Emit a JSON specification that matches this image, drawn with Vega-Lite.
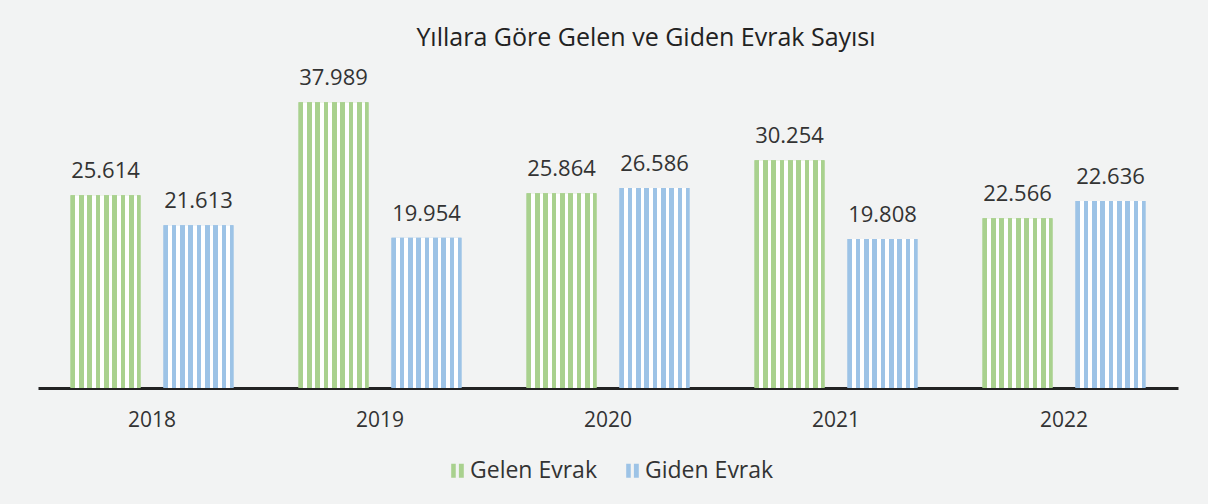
{
  "$schema": "https://vega.github.io/schema/vega-lite/v6.json",
  "width": 1140,
  "height": 301,
  "autosize": {"type": "none"},
  "padding": {"left": 38, "top": 87, "right": 30, "bottom": 116},
  "background": "#f2f3f3",
  "config": {
    "view": {"stroke": null},
    "font": "Open Sans",
    "locale": {"number": {"decimal": ",", "thousands": ".", "grouping": [3], "currency": ["", "₺"]}}
  },
  "title": {"text": "Yıllara Göre Gelen ve Giden Evrak Sayısı", "fontSize": 25, "fontWeight": "normal", "color": "#222222", "font": "Open Sans", "offset": 16, "dx": 38, "anchor": "middle"},
  "data": {"values": [
    {"year": "2018", "type": "Gelen Evrak", "value": 25614, "bar": 25614},
    {"year": "2018", "type": "Giden Evrak", "value": 21613, "bar": 21613},
    {"year": "2019", "type": "Gelen Evrak", "value": 37989, "bar": 37989},
    {"year": "2019", "type": "Giden Evrak", "value": 19954, "bar": 19954},
    {"year": "2020", "type": "Gelen Evrak", "value": 25864, "bar": 25864},
    {"year": "2020", "type": "Giden Evrak", "value": 26586, "bar": 26586},
    {"year": "2021", "type": "Gelen Evrak", "value": 30254, "bar": 30254},
    {"year": "2021", "type": "Giden Evrak", "value": 19808, "bar": 19808},
    {"year": "2022", "type": "Gelen Evrak", "value": 22566, "bar": 22566},
    {"year": "2022", "type": "Giden Evrak", "value": 22636, "bar": 24840}
  ]},
  "encoding": {
    "x": {"field": "year", "type": "nominal", "scale": {"paddingInner": 0, "paddingOuter": 0},
      "axis": {"title": null, "labelAngle": 0, "domainColor": "#222222", "domainWidth": 3, "ticks": false, "labelFontSize": 21, "labelColor": "#333333", "labelPadding": 21}},
    "xOffset": {"field": "type", "type": "nominal", "sort": ["Gelen Evrak", "Giden Evrak"], "scale": {"paddingInner": 0.247, "paddingOuter": 0.35}},
    "y": {"field": "bar", "type": "quantitative", "scale": {"domain": [0, 40000]}, "axis": null}
  },
  "layer": [
    {
      "mark": {"type": "bar"},
      "encoding": {
        "color": {"field": "type", "type": "nominal", "sort": ["Gelen Evrak", "Giden Evrak"],
          "scale": {"domain": ["Gelen Evrak", "Giden Evrak"], "range": ["#a9d18e", "#9dc3e6"]},
          "legend": {"orient": "none", "legendX": 408, "legendY": 372, "title": null, "direction": "horizontal",
            "symbolType": "M-0.9,-1H-0.25V1H-0.9Z M0.2,-1H0.9V1H0.2Z", "symbolSize": 196, "symbolStrokeWidth": 0,
            "labelFontSize": 23, "labelOffset": 1, "labelColor": "#333333", "columnPadding": 24}}
      }
    },
    {
      "mark": {"type": "bar"},
      "encoding": {
        "fill": {
          "condition": {"test": "datum.type === 'Gelen Evrak'", "value": {"gradient": "linear", "x1": 0, "y1": 0, "x2": 1, "y2": 0, "stops": [
            {"offset": 0, "color": "#a9d18e"}, {"offset": 0.067, "color": "#a9d18e"}, {"offset": 0.067, "color": "#ffffff"}, {"offset": 0.119, "color": "#ffffff"},
            {"offset": 0.119, "color": "#a9d18e"}, {"offset": 0.186, "color": "#a9d18e"}, {"offset": 0.186, "color": "#ffffff"}, {"offset": 0.238, "color": "#ffffff"},
            {"offset": 0.238, "color": "#a9d18e"}, {"offset": 0.305, "color": "#a9d18e"}, {"offset": 0.305, "color": "#ffffff"}, {"offset": 0.357, "color": "#ffffff"},
            {"offset": 0.357, "color": "#a9d18e"}, {"offset": 0.424, "color": "#a9d18e"}, {"offset": 0.424, "color": "#ffffff"}, {"offset": 0.476, "color": "#ffffff"},
            {"offset": 0.476, "color": "#a9d18e"}, {"offset": 0.543, "color": "#a9d18e"}, {"offset": 0.543, "color": "#ffffff"}, {"offset": 0.595, "color": "#ffffff"},
            {"offset": 0.595, "color": "#a9d18e"}, {"offset": 0.662, "color": "#a9d18e"}, {"offset": 0.662, "color": "#ffffff"}, {"offset": 0.714, "color": "#ffffff"},
            {"offset": 0.714, "color": "#a9d18e"}, {"offset": 0.781, "color": "#a9d18e"}, {"offset": 0.781, "color": "#ffffff"}, {"offset": 0.833, "color": "#ffffff"},
            {"offset": 0.833, "color": "#a9d18e"}, {"offset": 0.9, "color": "#a9d18e"}, {"offset": 0.9, "color": "#ffffff"}, {"offset": 0.952, "color": "#ffffff"},
            {"offset": 0.952, "color": "#a9d18e"}, {"offset": 1, "color": "#a9d18e"}
          ]}},
          "value": {"gradient": "linear", "x1": 0, "y1": 0, "x2": 1, "y2": 0, "stops": [
            {"offset": 0, "color": "#9dc3e6"}, {"offset": 0.067, "color": "#9dc3e6"}, {"offset": 0.067, "color": "#ffffff"}, {"offset": 0.119, "color": "#ffffff"},
            {"offset": 0.119, "color": "#9dc3e6"}, {"offset": 0.186, "color": "#9dc3e6"}, {"offset": 0.186, "color": "#ffffff"}, {"offset": 0.238, "color": "#ffffff"},
            {"offset": 0.238, "color": "#9dc3e6"}, {"offset": 0.305, "color": "#9dc3e6"}, {"offset": 0.305, "color": "#ffffff"}, {"offset": 0.357, "color": "#ffffff"},
            {"offset": 0.357, "color": "#9dc3e6"}, {"offset": 0.424, "color": "#9dc3e6"}, {"offset": 0.424, "color": "#ffffff"}, {"offset": 0.476, "color": "#ffffff"},
            {"offset": 0.476, "color": "#9dc3e6"}, {"offset": 0.543, "color": "#9dc3e6"}, {"offset": 0.543, "color": "#ffffff"}, {"offset": 0.595, "color": "#ffffff"},
            {"offset": 0.595, "color": "#9dc3e6"}, {"offset": 0.662, "color": "#9dc3e6"}, {"offset": 0.662, "color": "#ffffff"}, {"offset": 0.714, "color": "#ffffff"},
            {"offset": 0.714, "color": "#9dc3e6"}, {"offset": 0.781, "color": "#9dc3e6"}, {"offset": 0.781, "color": "#ffffff"}, {"offset": 0.833, "color": "#ffffff"},
            {"offset": 0.833, "color": "#9dc3e6"}, {"offset": 0.9, "color": "#9dc3e6"}, {"offset": 0.9, "color": "#ffffff"}, {"offset": 0.952, "color": "#ffffff"},
            {"offset": 0.952, "color": "#9dc3e6"}, {"offset": 1, "color": "#9dc3e6"}
          ]}
        }
      }
    },
    {
      "mark": {"type": "text", "baseline": "alphabetic", "dy": -17, "fontSize": 22, "color": "#333333"},
      "encoding": {
        "text": {"field": "value", "type": "quantitative", "format": ",d"}
      }
    }
  ]
}
